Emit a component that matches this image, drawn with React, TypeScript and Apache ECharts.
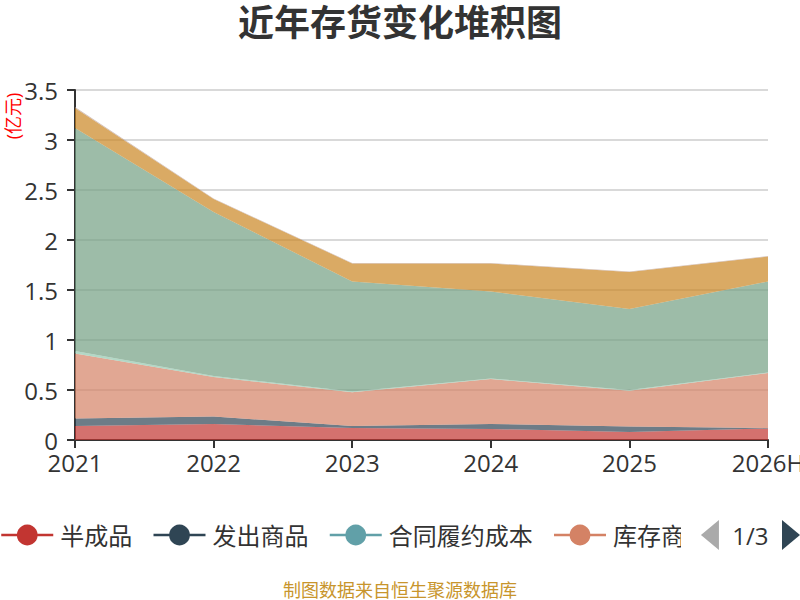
import React, { useEffect, useRef } from "react";
import * as echarts from "echarts";

const categories = ["2021", "2022", "2023", "2024", "2025", "2026H"];
const seriesNames = ["半成品", "发出商品", "合同履约成本", "库存商品", "委托加工物资", "原材料", "在产品", "周转材料"];
const banChengPin = [0.14, 0.16, 0.12, 0.11, 0.08, 0.115];
const faChuShangPin = [0.075, 0.075, 0.02, 0.05, 0.055, 0.005];
const heTongLvYue = [0, 0, 0, 0, 0, 0];
const kuCunShangPin = [0.65, 0.395, 0.337, 0.45, 0.357, 0.55];
const weiTuoJiaGong = [0.025, 0.01, 0.008, 0.005, 0.008, 0.005];
const yuanCaiLiao = [2.23, 1.64, 1.1, 0.87, 0.81, 0.91];
const zaiChanPin = [0.2, 0.13, 0.18, 0.28, 0.37, 0.25];
const zhouZhuanCaiLiao = [0.01, 0.005, 0.005, 0.005, 0.005, 0.005];
const yTicks = { min: 0, max: 3.5, interval: 0.5 };

const allValues = [banChengPin, faChuShangPin, heTongLvYue, kuCunShangPin, weiTuoJiaGong, yuanCaiLiao, zaiChanPin, zhouZhuanCaiLiao];
const palette = ["#c23531", "#2f4554", "#61a0a8", "#d48265", "#91c7ae", "#749f83", "#ca8622", "#bda29a", "#6e7074", "#546570", "#c4ccd3"];

const FONT = "'Open Sans', 'Noto Sans CJK SC', sans-serif";

export default function App() {
  const ref = useRef<HTMLDivElement>(null);
  useEffect(() => {
    if (!ref.current) return;
    const chart = echarts.init(ref.current, undefined, { renderer: "svg" });
    chart.setOption({
      animation: false,
      color: palette,
      textStyle: { fontFamily: FONT },
      title: {
        text: "近年存货变化堆积图",
        left: "center",
        top: -3,
        textStyle: { fontSize: 36, fontWeight: "bold", color: "#333", fontFamily: "'Noto Sans CJK SC', sans-serif" },
      },
      grid: { left: 75, right: 32, top: 90, bottom: 160, outerBoundsMode: "none", containLabel: false },
      legend: {
        type: "scroll",
        left: 0,
        right: 0,
        top: 520,
        padding: 0,
        itemWidth: 52,
        itemHeight: 26,
        itemGap: 20,
        lineStyle: { width: 2.5, opacity: 1 },
        textStyle: { fontSize: 24, color: "#333", padding: [0, 0, 0, 2], fontFamily: FONT },
        pageIconSize: 30,
        pageIconColor: "#2f4554",
        pageIconInactiveColor: "#aaa",
        pageTextStyle: { fontSize: 24, color: "#333" },
        pageButtonItemGap: 2,
        pageButtonGap: 20,
        data: seriesNames,
      },
      xAxis: {
        type: "category",
        boundaryGap: false,
        data: categories,
        axisLine: { lineStyle: { color: "#333", width: 2 } },
        axisTick: { alignWithLabel: true, length: 8, lineStyle: { width: 2 } },
        axisLabel: { fontSize: 24, color: "#333", margin: 10 },
      },
      yAxis: {
        type: "value",
        min: yTicks.min,
        max: yTicks.max,
        interval: yTicks.interval,
        axisLine: { show: true, lineStyle: { color: "#333", width: 2 } },
        axisTick: { show: true, length: 8, lineStyle: { width: 2 } },
        axisLabel: { fontSize: 24, color: "#333", margin: 17 },
        splitLine: { lineStyle: { color: "#ccc", width: 1.5 } },
      },
      graphic: [
        {
          type: "text",
          x: 13,
          y: 116,
          rotation: Math.PI / 2,
          style: { text: "(亿元)", fill: "#ff0000", fontSize: 18, textAlign: "center", textVerticalAlign: "middle", fontFamily: FONT },
        },
        {
          type: "text",
          x: 400,
          y: 589,
          style: { text: "制图数据来自恒生聚源数据库", fill: "#c8952c", fontSize: 18, textAlign: "center", textVerticalAlign: "middle", fontFamily: "'Noto Sans CJK SC', sans-serif" },
        },
      ],
      series: seriesNames.map((name, i) => ({
        name,
        type: "line",
        stack: "total",
        data: allValues[i],
        symbol: "circle",
        showSymbol: false,
        lineStyle: { width: 0 },
        areaStyle: { opacity: 0.7 },
      })),
    });
    return () => chart.dispose();
  }, []);
  return <div ref={ref} style={{ position: "absolute", left: 0, top: 0, width: 800, height: 600 }} />;
}
